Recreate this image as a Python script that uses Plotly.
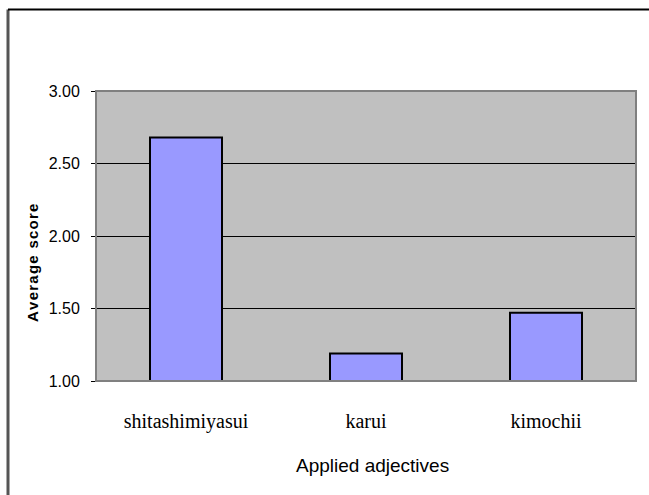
import plotly.graph_objects as go

# Average score for each applied adjective
adjectives = ["shitashimiyasui", "karui", "kimochii"]
scores = [2.68, 1.19, 1.47]
y_ticks = [1.00, 1.50, 2.00, 2.50, 3.00]
y_tick_text = ["1.00", "1.50", "2.00", "2.50", "3.00"]

W, H = 649, 495
L, R, T, B = 96, 13, 91, 114
pw, ph = W - L - R, H - T - B

SANS = "Liberation Sans, Arial, sans-serif"

fig = go.Figure()
fig.add_trace(go.Bar(
    x=adjectives,
    y=[s - 1.0 for s in scores],
    base=1.0,
    width=0.4,
    marker=dict(color="#9999FF", line=dict(color="black", width=2)),
    showlegend=False,
))

fig.update_layout(
    width=W, height=H,
    margin=dict(l=L, r=R, t=T, b=B),
    paper_bgcolor="white",
    plot_bgcolor="#C0C0C0",
    bargap=0.6,
    xaxis=dict(
        type="category",
        range=[-0.5, 2.5],
        showgrid=False,
        showline=False,
        ticks="",
        tickfont=dict(family="Liberation Serif", size=20, color="black"),
        ticklabelstandoff=26,
    ),
    yaxis=dict(
        range=[1.0, 3.0],
        tickvals=y_ticks,
        ticktext=y_tick_text,
        showgrid=True,
        gridcolor="black",
        gridwidth=1,
        zeroline=False,
        showline=False,
        ticks="outside",
        ticklen=4,
        tickcolor="black",
        tickfont=dict(family=SANS, size=16, color="black"),
        ticklabelstandoff=8,
    ),
)

# Axis titles
fig.add_annotation(text="Applied adjectives", xref="paper", yref="paper",
                   x=(372 - L) / pw, y=(T + ph - 465) / ph,
                   xanchor="center", yanchor="middle", showarrow=False,
                   font=dict(family=SANS, size=19, color="black"))
spaced = "\u200a".join("Average score")
fig.add_annotation(text="<b>" + spaced + "</b>", xref="paper", yref="paper",
                   x=(32 - L) / pw, y=(T + ph - 263) / ph,
                   xanchor="center", yanchor="middle", showarrow=False, textangle=-90,
                   font=dict(family=SANS, size=15, color="black"))

# Plot-area border
fig.add_shape(type="rect", xref="paper", yref="paper", x0=0, y0=0, x1=1, y1=1,
              line=dict(color="#808080", width=2), layer="above")

# Outer chart frame (left and top edges)
fx = (8 - L) / pw
fy = (T + ph - 9.5) / ph
fy_bot = (T + ph - H - 5) / ph
fig.add_shape(type="line", xref="paper", yref="paper", x0=fx, y0=fy_bot, x1=fx, y1=fy,
              line=dict(color="#555555", width=3))
fig.add_shape(type="line", xref="paper", yref="paper", x0=fx, y0=fy, x1=(W + 5 - L) / pw, y1=fy,
              line=dict(color="black", width=2))

fig.write_html("out.html")
